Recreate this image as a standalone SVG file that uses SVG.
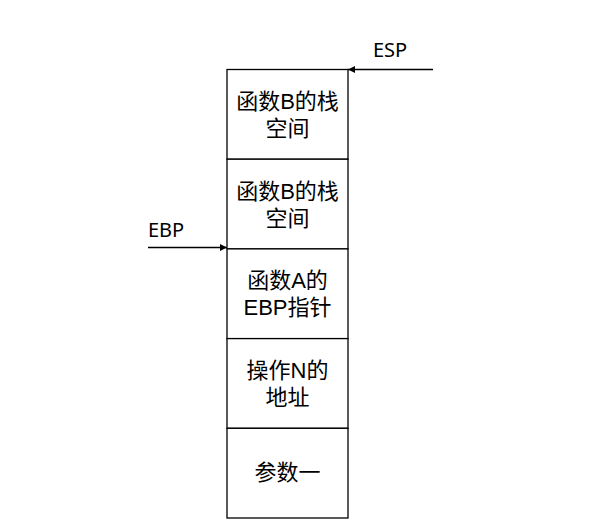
<svg xmlns="http://www.w3.org/2000/svg" width="601" height="520" viewBox="0 0 601 520">
  <style>
    .cell { fill: #ffffff; stroke: #000000; stroke-width: 1.3; }
    .lbl { font-family: "Liberation Sans", "Noto Sans CJK SC", sans-serif; font-size: 22px; fill: #000000; text-anchor: middle; }
    .ptr { font-family: "Noto Sans", "Liberation Sans", sans-serif; font-size: 20px; fill: #000000; }
    .arrow { stroke: #000000; stroke-width: 1.3; fill: none; marker-end: url(#head); }
  </style>
  <defs>
    <marker id="head" viewBox="0 0 10 10" refX="10" refY="5" markerWidth="7" markerHeight="7" markerUnits="userSpaceOnUse" orient="auto">
      <path d="M0,0 L10,5 L0,10 z" fill="#000000"/>
    </marker>
  </defs>
  <rect width="601" height="520" fill="#ffffff"/>

  <!-- stack frame slots, top of stack first -->
  <g id="slot-b1">
    <rect class="cell" x="227" y="69.5" width="121" height="89.7"/>
    <text class="lbl"><tspan x="287.5" y="108.5">函数B的栈</tspan><tspan x="287.5" y="135.5">空间</tspan></text>
  </g>
  <g id="slot-b2">
    <rect class="cell" x="227" y="159.2" width="121" height="89.7"/>
    <text class="lbl"><tspan x="287.5" y="198.5">函数B的栈</tspan><tspan x="287.5" y="225.5">空间</tspan></text>
  </g>
  <g id="slot-ebp">
    <rect class="cell" x="227" y="248.9" width="121" height="89.7"/>
    <text class="lbl"><tspan x="287.5" y="288">函数A的</tspan><tspan x="287.5" y="315">EBP指针</tspan></text>
  </g>
  <g id="slot-ret">
    <rect class="cell" x="227" y="338.6" width="121" height="89.7"/>
    <text class="lbl"><tspan x="287.5" y="377.5">操作N的</tspan><tspan x="287.5" y="404.5">地址</tspan></text>
  </g>
  <g id="slot-arg1">
    <rect class="cell" x="227" y="428.3" width="121" height="89.7"/>
    <text class="lbl" x="287.5" y="480">参数一</text>
  </g>

  <!-- register labels -->
  <g id="esp">
    <text class="ptr" x="373" y="57">ESP</text>
  </g>
  <g id="ebp">
    <text class="ptr" x="148" y="237">EBP</text>
  </g>

  <g id="connectors">
    <line class="arrow" x1="433" y1="69.5" x2="348" y2="69.5"/>
    <line class="arrow" x1="148" y1="247.5" x2="227" y2="247.5"/>
  </g>
</svg>
